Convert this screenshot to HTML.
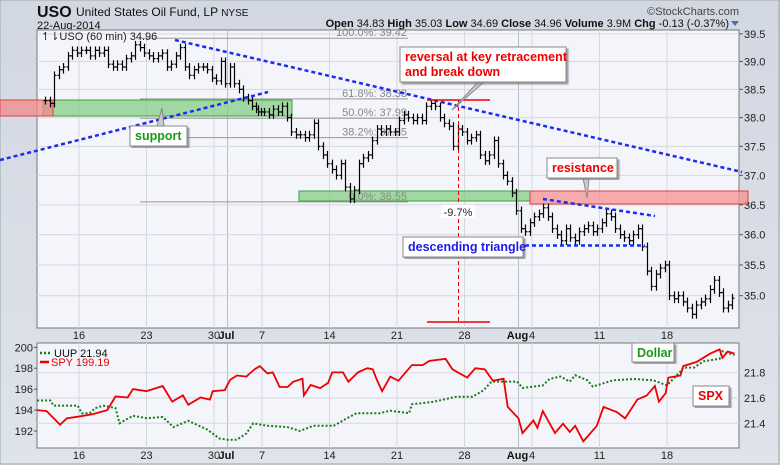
<!DOCTYPE html>
<html><head><meta charset="utf-8"><style>
body{margin:0;background:#d4d9e4;}
svg{display:block;font-family:"Liberation Sans",sans-serif;}
</style></head><body>
<svg id="c" width="780" height="465" xmlns="http://www.w3.org/2000/svg">
<defs><linearGradient id="bg" x1="0" y1="0" x2="0" y2="1"><stop offset="0" stop-color="#d2d7e2"/><stop offset="1" stop-color="#dfe3ea"/></linearGradient>
<filter id="sh"><feDropShadow dx="2" dy="2" stdDeviation="0.8" flood-color="#777" flood-opacity="0.7"/></filter></defs>
<rect width="780" height="465" fill="url(#bg)"/>
<rect x="0" y="0" width="779" height="464" fill="none" stroke="#9aa" />
<text x="37" y="17" font-size="16" font-weight="bold" fill="#111">USO</text>
<text x="76" y="16" font-size="12" fill="#111">United States Oil Fund, LP <tspan font-size="10">NYSE</tspan></text>
<text x="37" y="29" font-size="11" fill="#111">22-Aug-2014</text>
<text x="739" y="15" font-size="11" fill="#444" text-anchor="end">©StockCharts.com</text>
<text x="729" y="27" font-size="11" fill="#111" text-anchor="end"><tspan font-weight="bold">Open</tspan> 34.83 <tspan font-weight="bold">High</tspan> 35.03 <tspan font-weight="bold">Low</tspan> 34.69 <tspan font-weight="bold">Close</tspan> 34.96 <tspan font-weight="bold">Volume</tspan> 3.9M <tspan font-weight="bold">Chg</tspan> -0.13 (-0.37%)</text>
<path d="M731 21 L739 21 L735 26 Z" fill="#4a6fa8"/>
<g id="main"></g>
<g id="lower"></g>
</svg>
<script>
// ---- USO hourly-ish closes (3 per trading day), first value at day -2.5
const usoStart = -2.5;
const usoClose = [38.3,38.25,
38.75,38.85,38.9, 39.1,39.2,39.15, 39.2,39.2,39.1, 39.2,39.15,39.2, 38.95,38.9,38.95, 38.9,39.05,39.1, 39.3,39.25,39.15,
39.1,39.05,39.1, 39.15,38.9,38.95, 39.1,39.25,38.9, 38.75,38.85,38.9, 38.9,38.85,38.7,
38.65,39.0,38.6, 38.9,38.6,38.5, 38.35,38.3,38.2, 38.15,38.1,38.1,
38.1,38.05,38.15, 38.1,38.2,38.0, 37.75,37.7,37.7, 37.65,37.7,37.9, 37.5,37.35,37.2,
37.1,37.0,37.2, 36.8,36.6,36.75, 37.2,37.3,37.35, 37.6,37.8,37.75, 37.8,37.75,37.75,
37.95,38.05,38.0, 37.95,38.0,37.95, 38.2,38.25,38.2, 38.0,37.9,37.85, 37.5,37.8,37.75,
37.6,37.65,37.7, 37.35,37.25,37.35, 37.6,37.2,37.0, 36.9,36.7,36.4, 36.1,36.05,36.2,
36.3,36.35,36.45, 36.3,36.1,36.0, 35.9,36.1,35.95, 35.9,36.05,36.1, 36.15,36.05,36.1,
36.2,36.35,36.3, 36.1,36.0,35.95, 35.9,36.0,36.1, 35.8,35.4,35.15, 35.35,35.45,35.5,
35.0,34.95,35.0, 34.9,34.8,34.7, 34.85,34.9,34.95, 35.1,35.25,35.05, 34.8,34.85,34.96];
const priceTicks = [35.0,35.5,36.0,36.5,37.0,37.5,38.0,38.5,39.0,39.5];
const dateTicks = [0,5,10,14,19,24,29,34,39,44];
const dateLabels = ["16","23","30","7","14","21","28","4","11","18"];
const monthTicks = [11,33];
const monthLabels = ["Jul","Aug"];
const fibLevels = [39.42,38.33,37.99,37.65,36.55];
const fibLabels = ["100.0%: 39.42","61.8%: 38.33","50.0%: 37.99","38.2%: 37.65","0.0%: 36.55"];
// ---- lower panel
const spyT = [-3.1,-2.4,-1.4,-0.9,0.1,1.0,2.1,2.7,3.6,4.0,5.0,6.2,6.9,7.7,8.1,9.0,9.7,9.9,10.8,11.2,11.7,12.4,13.0,13.7,14.4,14.8,15.3,15.9,16.3,17.0,17.1,17.6,18.3,18.9,19.2,20.0,20.4,21.1,21.8,22.2,22.5,22.9,23.5,24.1,25.1,25.9,26.4,27.6,28.1,29.2,29.8,30.5,31.1,31.9,32.2,33.0,33.3,34.1,34.4,34.8,35.7,36.3,36.8,37.2,37.8,38.8,39.3,40.3,40.9,41.8,42.5,43.1,43.4,43.9,44.1,45.0,45.2,46.2,47.2,47.9,48.1,48.5,49.0];
const spyV = [194.0,193.9,192.6,193.2,193.4,193.6,194.0,195.3,195.2,196.0,195.8,196.3,194.8,195.4,194.5,195.2,195.0,195.8,195.9,196.9,197.3,197.2,197.9,198.2,197.5,197.6,196.2,196.2,196.7,197.0,195.4,196.4,196.1,196.6,197.6,197.6,196.7,197.6,198.0,197.9,196.9,195.8,197.2,196.8,198.3,198.3,198.7,198.9,197.9,197.1,198.0,197.9,196.8,197.0,194.3,193.2,191.8,193.0,192.3,193.9,191.8,192.7,191.9,192.5,191.0,192.5,194.3,193.8,193.2,195.0,195.4,196.3,194.8,195.6,197.1,197.3,198.2,198.6,199.4,199.8,199.0,199.6,199.4];
const uupT = [-3.1,-2.1,-1.9,-0.1,0.2,0.8,1.2,1.8,2.7,3.0,4.0,5.0,6.2,7.0,8.1,9.5,10.4,11.0,11.7,12.4,12.9,14.4,15.9,16.8,17.8,19.3,20.3,21.0,22.7,23.5,24.9,25.1,26.7,28.4,29.6,30.4,31.0,32.9,33.3,34.8,35.3,36.1,36.8,37.2,38.1,38.5,40.0,41.5,43.0,44.0,45.0,45.2,46.0,46.7,47.9,48.1,49.0];
const uupV = [21.58,21.58,21.54,21.54,21.48,21.48,21.52,21.54,21.52,21.40,21.46,21.44,21.45,21.37,21.42,21.35,21.28,21.27,21.27,21.32,21.40,21.38,21.37,21.34,21.38,21.38,21.44,21.48,21.48,21.50,21.48,21.55,21.57,21.61,21.61,21.66,21.73,21.73,21.68,21.70,21.75,21.77,21.73,21.78,21.74,21.69,21.74,21.75,21.74,21.70,21.81,21.84,21.84,21.89,21.91,21.97,21.94];
const spyTicks = [192,194,196,198,200];
const uupTicks = [21.4,21.6,21.8];

const NS="http://www.w3.org/2000/svg";
const L=37,R=739,T=30,B=328,LT=343,LB=448;
function X(t){ if(t<13) return 79+13.5*t; if(t<14) return 254.5+(t-13)*7.5; return 73+13.5*t; }
function Y(p){ return 234.7-2165*Math.log(p/36); }
function YS(v){ return 347.3-(v-200)*10.46; }
function YU(v){ return 372.7-(v-21.8)*126.5; }
function mk(tag,attrs,parent){const e=document.createElementNS(NS,tag);for(const k in attrs)e.setAttribute(k,attrs[k]);parent.appendChild(e);return e;}
const main=document.getElementById('main'), lower=document.getElementById('lower');

function panel(g,top,bot,name){
  const r=mk('rect',{x:L,y:top,width:R-L,height:bot-top,fill:'#f4f5fa',stroke:'#777'},g);
  
  
  dateTicks.forEach((t,i)=>{mk('line',{x1:X(t),x2:X(t),y1:top,y2:bot,stroke:'#d6d8e0'},g);});
  monthTicks.forEach(t=>{mk('line',{x1:X(t),x2:X(t),y1:top,y2:bot,stroke:'#b8bcc6'},g);});
  const ly=bot+11;
  dateTicks.forEach((t,i)=>{
    const tx=mk('text',{x:X(t),y:ly,'font-size':11,'text-anchor':'middle',fill:'#222'},g);tx.textContent=dateLabels[i];
    
    
  });
  monthTicks.forEach((t,i)=>{
    const tx=mk('text',{x:X(t)-1,y:ly,'font-size':11,'font-weight':'bold','text-anchor':'middle',fill:'#111'},g);tx.textContent=monthLabels[i];
    
    
  });
}
panel(main,T,B,'price-plot-area');
priceTicks.forEach(p=>{
  const y=Y(p);
  if(y>T+2) mk('line',{x1:L,x2:R,y1:y,y2:y,stroke:'#d6d8e0'},main);
  mk('line',{x1:R,x2:R+4,y1:y,y2:y,stroke:'#555'},main);
  const tx=mk('text',{x:R+5,y:y+4,'font-size':11,fill:'#222'},main);tx.textContent=p.toFixed(1);
  
  
});
// zones
function zone(x,y,w,h,fill,stroke,name){const r=mk('rect',{x:x,y:y,width:w,height:h,fill:fill,stroke:stroke,'fill-opacity':0.75},main);
  
  }
zone(43,100,249,16,'#86cc86','#3aa43a','support-zone');
zone(0,100,53,16,'#f28a8a','#e04040','prior-high-zone');
zone(299,191,231,10,'#86cc86','#3aa43a','fib-support-zone');
zone(530,191,218,13,'#f79090','#e04040','resistance-zone');
// fib lines
fibLevels.forEach((p,i)=>{
  const y=Y(p);
  const ln=mk('line',{x1:140,x2:408,y1:y,y2:y,stroke:'#999'},main);
  
  
  const tx=mk('text',{x:407,y:y-2,'font-size':11,'text-anchor':'end',fill:'#888'},main);tx.textContent=fibLabels[i];
  
  
});
// bars
let prev=usoClose[0];
usoClose.forEach((c,k)=>{
  const x=Math.round(X(usoStart+k/3))+0.5;
  const o=prev;prev=c;
  const hi=Math.max(o,c)+0.07, lo=Math.min(o,c)-0.07;
  const g=mk('g',{stroke:'#000','stroke-width':1.2},main);
  
  
  mk('line',{x1:x,x2:x,y1:Y(hi),y2:Y(lo)},g);
  mk('line',{x1:x-2,x2:x,y1:Y(o),y2:Y(o)},g);
  mk('line',{x1:x,x2:x+2,y1:Y(c),y2:Y(c)},g);
});
function dl(x1,y1,x2,y2,name){const l=mk('line',{x1,y1,x2,y2,stroke:'#1a2cf0','stroke-width':2.5,'stroke-dasharray':'4 3'},main);
  
  }
dl(175,40,742,172,'down-trendline');
dl(0,160,268,92,'up-trendline');
dl(543,199,655,216,'triangle-upper-line');
dl(525,245.5,645,245.5,'triangle-support-line');
mk('line',{x1:427,x2:490,y1:100,y2:100,stroke:'#e00','stroke-width':1.5},main);
mk('line',{x1:427,x2:490,y1:322,y2:322,stroke:'#e00','stroke-width':1.5},main);
const vd=mk('line',{x1:458.5,x2:458.5,y1:100,y2:322,stroke:'#e00','stroke-dasharray':'4 3'},main);


mk('rect',{x:441,y:205,width:34,height:13,fill:'#fff'},main);
const pt=mk('text',{x:458,y:216,'font-size':11,'text-anchor':'middle',fill:'#222'},main);pt.textContent='-9.7%';


const lg=mk('text',{x:41,y:40,'font-size':11,fill:'#222'},main);lg.textContent='↿⇂USO (60 min) 34.96';


function callout(g,x,y,w,h,lines,color,ptr,name){
  if(ptr) mk('path',{d:ptr,fill:'#ccc',stroke:'#888'},g);
  const r=mk('rect',{x,y,width:w,height:h,fill:'#fff',stroke:'#888',filter:'url(#sh)'},g);
  
  
  lines.forEach((s,i)=>{const t=mk('text',{x:x+5,y:y+14+i*15,'font-size':12.5,'font-weight':'bold',fill:color},g);t.textContent=s;
    
    });
}
callout(main,400,47,166,35,['reversal at key retracement','and break down'],'#e00','M478 82 L452 110 L484 82 Z','reversal-callout');
callout(main,130,126,57,20,['support'],'#1a9a1a','M157 126 L162 108 L164 126 Z','support-callout');
callout(main,547,158,70,20,['resistance'],'#e00','M583 178 L587 198 L589 178 Z','resistance-callout');
callout(main,403,237,120,20,['descending triangle'],'#1a1aee',null,'triangle-callout');

panel(lower,LT,LB,'ratio-plot-area');
uupTicks.forEach(v=>{
  const y=YU(v);
  mk('line',{x1:L,x2:R,y1:y,y2:y,stroke:'#d6d8e0'},lower);
  const tx=mk('text',{x:R+5,y:y+4,'font-size':11,fill:'#222'},lower);tx.textContent=v.toFixed(1);
  
  
});
spyTicks.forEach(v=>{
  const y=YS(v);
  mk('line',{x1:L-3,x2:L,y1:y,y2:y,stroke:'#555'},lower);
  const tx=mk('text',{x:L-4,y:y+4,'font-size':11,'text-anchor':'end',fill:'#222'},lower);tx.textContent=String(v);
  
  
});
const uupP=mk('polyline',{points:uupT.map((t,i)=>X(t).toFixed(1)+','+YU(uupV[i]).toFixed(1)).join(' '),fill:'none',stroke:'#1a7a1a','stroke-width':2,'stroke-dasharray':'2 2'},lower);


const spyP=mk('polyline',{points:spyT.map((t,i)=>X(t).toFixed(1)+','+YS(spyV[i]).toFixed(1)).join(' '),fill:'none',stroke:'#e00','stroke-width':1.8},lower);


mk('line',{x1:40,x2:51,y1:353,y2:353,stroke:'#1a7a1a','stroke-width':2.5,'stroke-dasharray':'2 2'},lower);
const l1=mk('text',{x:54,y:357,'font-size':11,fill:'#111'},lower);l1.textContent='UUP 21.94';


mk('line',{x1:40,x2:49,y1:362,y2:362,stroke:'#e00','stroke-width':2.5},lower);
const l2=mk('text',{x:51,y:366,'font-size':11,fill:'#e00'},lower);l2.textContent='SPY 199.19';


callout(lower,632,343,42,19,['Dollar'],'#1a9a1a',null,'dollar-callout');
callout(lower,693,386,36,20,['SPX'],'#e00',null,'spx-callout');
</script>
</body></html>
